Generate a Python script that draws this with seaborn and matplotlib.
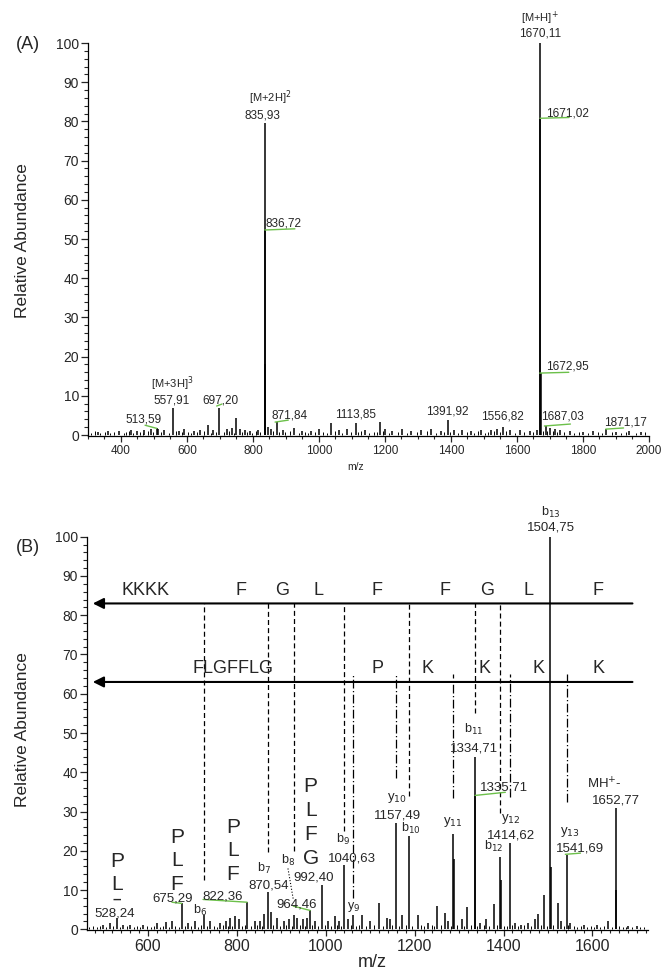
import matplotlib
matplotlib.use("Agg")
import matplotlib.pyplot as plt
from matplotlib.ticker import MultipleLocator
import seaborn as sns

sns.set_theme(style="ticks")
plt.rcParams['font.family'] = ['Liberation Sans', 'DejaVu Sans']

# ----------------------
# (A) full scan spectrum: peaks (m/z, relative abundance)
# ----------------------
peaks_a = [(330, 0.8), (360, 1.0), (395, 0.9), (430, 1.2), (450, 1.0), (470, 1.4),
           (490, 1.5), (508, 1.8), (513.6, 1.6), (530, 1.2), (557.9, 7.0), (575, 1.0),
           (591, 1.5), (620, 1.0), (640, 1.2), (664, 2.5), (680, 1.2), (697.2, 7.0),
           (720, 1.5), (735, 1.8), (749, 4.3), (760, 1.5), (775, 1.2), (790, 1.0),
           (815, 1.2), (835.9, 79.7), (836.7, 52.3), (837.5, 18.0), (845, 2.0), (855, 1.5),
           (871.8, 3.3), (890, 1.2), (923, 1.8), (950, 1.0), (975, 1.0), (1000, 1.5),
           (1036, 3.0), (1060, 1.2), (1085, 1.5), (1112, 3.0), (1140, 1.2), (1186, 3.4),
           (1200, 1.5), (1220, 1.0), (1252, 1.5), (1280, 1.0), (1310, 1.2), (1340, 1.5),
           (1370, 1.0), (1391.9, 3.8), (1410, 1.2), (1434, 1.2), (1460, 1.0), (1490, 1.2),
           (1520, 1.4), (1540, 1.5), (1556.8, 2.0), (1580, 1.2), (1610, 1.2), (1640, 1.0),
           (1660, 1.2), (1670.1, 100.0), (1671.0, 80.5), (1673.0, 15.8), (1687.0, 2.3),
           (1700, 1.8), (1715, 1.5), (1730, 1.2), (1760, 1.0), (1800, 0.8), (1830, 1.0),
           (1871.2, 1.5), (1900, 0.8), (1940, 0.9), (1975, 0.8)]

noise_a = [(308, 0.6), (322, 0.9), (337, 0.5), (351, 0.7), (366, 0.6), (379, 0.8),
           (409, 0.5), (416, 0.7), (423, 0.9), (437, 0.6), (458, 0.8), (466, 0.6),
           (481, 0.9), (496, 0.7), (521, 0.8), (545, 0.6), (566, 0.9), (584, 0.7),
           (603, 0.8), (611, 0.6), (631, 0.7), (652, 0.9), (672, 0.6), (688, 0.8),
           (711, 0.7), (726, 0.9), (742, 0.6), (768, 0.8), (782, 0.7), (798, 0.6),
           (808, 0.9), (822, 0.7), (862, 1.0), (880, 0.8), (897, 0.7), (912, 0.9),
           (938, 0.6), (958, 0.8), (966, 0.6), (989, 0.7), (1012, 0.8), (1023, 0.6),
           (1048, 0.9), (1070, 0.6), (1096, 0.8), (1118, 0.7), (1128, 0.9), (1153, 0.6),
           (1167, 0.8), (1176, 0.7), (1194, 0.9), (1212, 0.6), (1238, 0.8), (1266, 0.6),
           (1296, 0.7), (1326, 0.9), (1354, 0.6), (1380, 0.8), (1398, 0.7), (1420, 0.6),
           (1448, 0.8), (1469, 0.6), (1483, 0.9), (1502, 0.6), (1512, 0.7), (1530, 0.9),
           (1548, 0.7), (1566, 0.9), (1594, 0.6), (1620, 0.8), (1650, 0.7), (1678, 1.1),
           (1692, 1.0), (1708, 0.9), (1722, 0.8), (1744, 0.7), (1773, 0.6), (1787, 0.8),
           (1816, 0.6), (1845, 0.7), (1859, 0.6), (1887, 0.8), (1916, 0.6), (1931, 0.7),
           (1960, 0.6), (1989, 0.7)]

labels_a = [("[M+H]$^{+}$", 1670, 106.3, 8), ("1670,11", 1670, 102.5, 8.5),
            ("[M+2H]$^{2}$", 853, 86.0, 8), ("835,93", 830, 81.6, 8.5),
            ("836,72", 892, 54.0, 8.5), ("1671,02", 1752, 82.1, 8.5),
            ("1672,95", 1752, 17.4, 8.5), ("[M+3H]$^{3}$", 554, 13.1, 8),
            ("557,91", 554, 8.9, 8.5), ("697,20", 700, 8.9, 8.5),
            ("513,59", 468, 4.0, 8.5), ("871,84", 910, 5.0, 8.5),
            ("1113,85", 1112, 5.2, 8.5), ("1391,92", 1390, 5.9, 8.5),
            ("1556,82", 1555, 4.6, 8.5), ("1687,03", 1738, 4.6, 8.5),
            ("1871,17", 1929, 3.2, 8.5)]

green_a = [((473, 2.5), (508, 1.7)), ((690, 7.4), (706, 7.9)), ((836, 52.3), (927, 52.6)),
           ((1670, 80.8), (1758, 81.0)), ((1669, 15.8), (1757, 16.0)), ((867, 3.3), (907, 3.8)),
           ((1683, 2.3), (1762, 2.8)), ((1869, 1.5), (1923, 1.8))]

# ----------------------
# (B) MS/MS spectrum
# ----------------------
peaks_b = [(498, 1.2), (515, 1.5), (529.5, 2.8), (545, 1.0), (560, 1.2), (590, 1.0),
           (620, 1.5), (640, 1.8), (655, 2.0), (676, 6.6), (690, 1.5), (705, 2.0),
           (727, 3.6), (740, 2.2), (762, 1.5), (775, 2.0), (785, 3.0), (795, 3.5),
           (805, 2.5), (823, 6.9), (840, 2.0), (852, 2.2), (862, 4.0), (870.5, 9.4),
           (876, 4.3), (890, 3.0), (905, 2.0), (918, 2.5), (929, 3.6), (935, 3.0),
           (948, 2.5), (958, 3.0), (964.5, 4.8), (975, 2.0), (992.4, 11.2), (1005, 2.2),
           (1020, 3.5), (1030, 2.0), (1040.6, 16.3), (1050, 2.5), (1062, 3.6), (1081, 3.6),
           (1100, 2.0), (1120, 6.6), (1138, 3.0), (1145, 2.5), (1157.5, 27.0), (1171, 3.6),
           (1188, 23.7), (1208, 3.6), (1230, 1.5), (1251, 5.9), (1269, 4.2), (1275, 2.0),
           (1286, 24.4), (1288, 18.0), (1307, 2.5), (1318, 5.6), (1334.7, 44.0), (1335.7, 34.0),
           (1348, 1.5), (1361, 2.5), (1379, 6.4), (1393, 18.4), (1394, 12.5), (1414.6, 21.9),
           (1425, 1.5), (1440, 1.2), (1455, 1.5), (1470, 2.5), (1478, 3.8), (1490, 8.7),
           (1504.75, 100.0), (1505.75, 15.8), (1523, 6.6), (1530, 2.0), (1541.7, 18.8),
           (1550, 1.5), (1580, 1.2), (1610, 1.0), (1636, 2.0), (1652.8, 30.8), (1653.8, 10.0),
           (1680, 0.8), (1700, 0.8)]

noise_b = [(468, 0.6), (476, 0.8), (485, 0.5), (492, 0.9), (506, 0.6), (522, 0.8),
           (537, 0.7), (552, 0.9), (568, 0.6), (576, 0.8), (583, 0.7), (598, 0.9),
           (606, 0.6), (613, 0.8), (628, 0.7), (634, 0.9), (648, 0.7), (662, 0.9),
           (669, 0.7), (683, 0.8), (697, 0.9), (712, 0.7), (719, 1.0), (734, 0.8),
           (748, 0.9), (755, 0.7), (769, 1.0), (781, 0.8), (790, 0.9), (812, 0.8),
           (818, 1.0), (832, 0.9), (846, 1.1), (857, 0.9), (882, 1.0), (898, 0.8),
           (911, 1.0), (924, 0.9), (941, 1.0), (953, 0.8), (969, 1.1), (983, 0.9),
           (998, 1.0), (1012, 0.8), (1025, 1.0), (1035, 0.9), (1056, 1.0), (1069, 0.8),
           (1075, 1.0), (1090, 0.9), (1108, 1.0), (1128, 0.8), (1150, 1.0), (1164, 0.9),
           (1180, 1.0), (1195, 0.8), (1215, 1.0), (1222, 0.8), (1238, 1.0), (1244, 0.8),
           (1260, 1.0), (1281, 0.9), (1296, 1.0), (1312, 0.8), (1326, 1.0), (1341, 0.9),
           (1355, 1.0), (1368, 0.9), (1386, 1.0), (1402, 0.9), (1408, 0.8), (1420, 1.0),
           (1432, 0.8), (1447, 1.0), (1462, 0.9), (1484, 1.0), (1497, 0.9), (1512, 1.0),
           (1535, 0.9), (1546, 1.0), (1558, 0.8), (1566, 0.7), (1574, 0.8), (1588, 0.6),
           (1596, 0.8), (1604, 0.6), (1618, 0.7), (1625, 0.9), (1644, 0.7), (1660, 0.8),
           (1668, 0.6), (1675, 0.7), (1690, 0.6), (1708, 0.7), (1715, 0.5)]

labels_b = [("528,24", 526, 4.0, 9.5), ("675,29", 656, 7.9, 9.5), ("b$_{6}$", 718, 4.8, 9),
            ("822,36", 769, 8.4, 9.5), ("b$_{7}$", 860, 15.5, 9), ("870,54", 872, 11.2, 9.5),
            ("b$_{8}$", 915, 17.6, 9), ("964,46", 935, 6.4, 9.5), ("992,40", 972, 13.2, 9.5),
            ("b$_{9}$", 1039, 23.0, 9), ("1040,63", 1060, 18.0, 9.5), ("y$_{9}$", 1062, 5.6, 9),
            ("y$_{10}$", 1161, 33.4, 9.5), ("1157,49", 1161, 29.0, 9.5), ("b$_{10}$", 1192, 25.7, 9),
            ("y$_{11}$", 1287, 27.3, 9.5), ("b$_{11}$", 1332, 51.0, 9), ("1334,71", 1334, 46.0, 9.5),
            ("1335,71", 1400, 36.0, 9.5), ("y$_{12}$", 1417, 28.2, 9.5), ("1414,62", 1417, 24.0, 9.5),
            ("b$_{12}$", 1377, 21.0, 9), ("b$_{13}$", 1507, 106.3, 9), ("1504,75", 1507, 102.4, 9.5),
            ("y$_{13}$", 1550, 24.7, 9.5), ("1541,69", 1573, 20.6, 9.5),
            ("MH$^{+}$-", 1626, 37.0, 9.5), ("1652,77", 1652, 32.8, 9.5)]

green_b = [((654, 6.9), (676, 6.6)), ((724, 7.6), (823, 6.9)), ((927, 5.9), (965, 4.8)),
           ((1336, 34.1), (1404, 34.9)), ((1539, 19.1), (1573, 19.4))]

# residue stacks (P, L, F, G) written vertically over the low mass fragments
stacks_b = [(530, ["P", "L"], [17.3, 11.3]),
            (665, ["P", "L", "F"], [23.5, 17.5, 11.5]),
            (791, ["P", "L", "F"], [26.0, 20.0, 14.0]),
            (966, ["P", "L", "F", "G"], [36.4, 30.3, 24.2, 18.1])]
stack_bar = ("–", 530, 7.6)

# sequence ladders: b-series on the upper arrow, y-series on the lower one
b_arrow_y = 83
y_arrow_y = 63
arrow_span = (476, 1690)
b_letters = ["KKKK", "F", "G", "L", "F", "F", "G", "L", "F"]
b_letter_mz = [594, 809, 902, 984, 1116, 1268, 1363, 1456, 1613]
y_letters = ["FLGFFLG", "P", "K", "K", "K", "K"]
y_letter_mz = [791, 1116, 1230, 1357, 1478, 1613]

b_line_mz = [727, 870.5, 929, 1040.6, 1188, 1334.7, 1393]
b_line_end = [12.5, 19.6, 20.0, 25.0, 34.0, 55.0, 29.5]
y_line_mz = [1062, 1157.5, 1286, 1414.6, 1541.7]
y_line_end = [8.0, 38.5, 33.4, 33.6, 32.3]

GREEN = "#6cc04a"

fig = plt.figure(figsize=(6.7, 9.73), dpi=100)
ax_a = fig.add_axes([0.1313, 0.5517, 0.8373, 0.4041])
ax_b = fig.add_axes([0.1299, 0.0437, 0.8373, 0.4047])


def draw_stems(ax, peaks, noise):
    mz_n = [p[0] for p in noise]
    h_n = [p[1] for p in noise]
    ax.vlines(mz_n, 0, h_n, color="black", lw=0.7)
    mz = [p[0] for p in peaks]
    h = [p[1] for p in peaks]
    ax.vlines(mz, 0, h, color="black", lw=1.1)


def style_axis(ax, xlim, xmaj, xmin, xfs):
    ax.set_xlim(*xlim)
    ax.set_ylim(-0.3, 100)
    ax.yaxis.set_major_locator(MultipleLocator(10))
    ax.yaxis.set_minor_locator(MultipleLocator(2))
    ax.xaxis.set_major_locator(MultipleLocator(xmaj))
    ax.xaxis.set_minor_locator(MultipleLocator(xmin))
    ax.tick_params(axis="y", which="major", direction="out", length=5, width=0.9, labelsize=10, pad=1.5)
    ax.tick_params(axis="y", which="minor", direction="out", length=3, width=0.8)
    ax.tick_params(axis="x", which="major", direction="out", length=4, width=0.9, labelsize=xfs, pad=2)
    ax.tick_params(axis="x", which="minor", direction="out", length=2.5, width=0.8)
    sns.despine(ax=ax)
    for s in ["left", "bottom"]:
        ax.spines[s].set_linewidth(0.9)
        ax.spines[s].set_color("black")
    ax.set_ylabel("")
    ax.set_xlabel("")


# ---- panel A ----
draw_stems(ax_a, peaks_a, noise_a)
style_axis(ax_a, (300, 2000), 200, 50, 8.5)
ax_a.set_xticks(range(400, 2001, 200))
for (x0, y0), (x1, y1) in green_a:
    ax_a.plot([x0, x1], [y0, y1], color=GREEN, lw=1.0)
for txt, x, y, fs in labels_a:
    ax_a.text(x, y, txt, ha="center", va="center", fontsize=fs, clip_on=False)

# ---- panel B ----
draw_stems(ax_b, peaks_b, noise_b)
style_axis(ax_b, (463, 1725), 200, 20, 11.5)
ax_b.set_xticks(range(600, 1601, 200))

for lab_y in [b_arrow_y, y_arrow_y]:
    ax_b.annotate("", xy=(arrow_span[0], lab_y), xytext=(arrow_span[1], lab_y),
                  arrowprops=dict(arrowstyle="-|>", color="black", lw=1.5,
                                  mutation_scale=16, shrinkA=0, shrinkB=0),
                  annotation_clip=False)
for txt, x in zip(b_letters, b_letter_mz):
    ax_b.text(x, b_arrow_y + 3.2, txt, ha="center", va="center", fontsize=13)
for txt, x in zip(y_letters, y_letter_mz):
    ax_b.text(x, y_arrow_y + 3.4, txt, ha="center", va="center", fontsize=13)

ax_b.vlines(b_line_mz, b_line_end, b_arrow_y, color="black", lw=0.9, linestyles=(0, (4, 2.5)))
ax_b.vlines(y_line_mz, y_line_end, y_arrow_y + 2, color="black", lw=0.9,
            linestyles=(0, (7, 2, 1, 2)))
ax_b.plot([915, 927], [15.5, 7.6], color="black", lw=0.8, ls=":")

for (x0, y0), (x1, y1) in green_b:
    ax_b.plot([x0, x1], [y0, y1], color=GREEN, lw=1.0)
for txt, x, y, fs in labels_b:
    ax_b.text(x, y, txt, ha="center", va="center", fontsize=fs, clip_on=False)
for x, letters, ys in stacks_b:
    for letter, y in zip(letters, ys):
        ax_b.text(x, y, letter, ha="center", va="center", fontsize=15)
ax_b.text(stack_bar[1], stack_bar[2], stack_bar[0], ha="center", va="center",
          fontsize=11, fontweight="bold")

# ---- figure text ----
fig.text(0.042, 0.954, "(A)", fontsize=13, ha="center", va="center")
fig.text(0.042, 0.437, "(B)", fontsize=13, ha="center", va="center")
fig.text(0.033, 0.753, "Relative Abundance", rotation=90, fontsize=12.5, ha="center", va="center")
fig.text(0.033, 0.250, "Relative Abundance", rotation=90, fontsize=12.5, ha="center", va="center")
fig.text(0.530, 0.520, "m/z", fontsize=7.5, ha="center", va="center")
fig.text(0.555, 0.0113, "m/z", fontsize=13, ha="center", va="center")

fig.savefig("out.png", dpi=100, facecolor="white")
